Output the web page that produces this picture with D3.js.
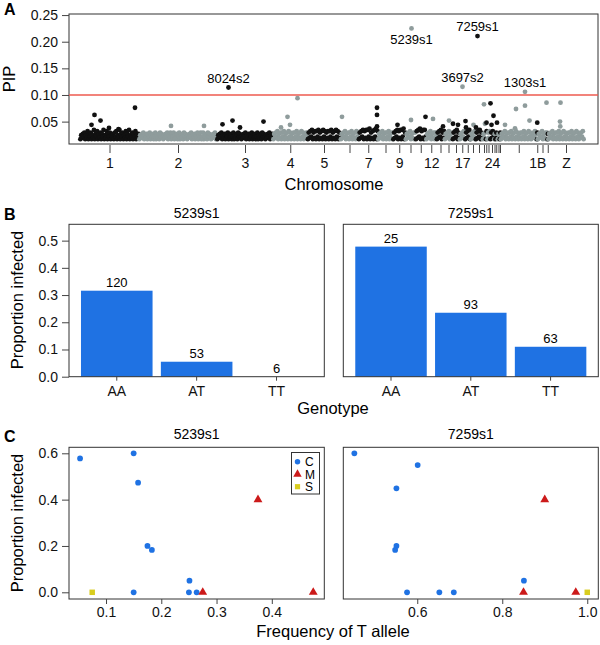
<!DOCTYPE html>
<html>
<head>
<meta charset="utf-8">
<script src="https://cdn.jsdelivr.net/npm/d3@7"></script>
<style>
  body { margin: 0; background: #fff; }
  svg { font-family: "Liberation Sans", Arial, sans-serif; }
</style>
</head>
<body>
<script>
// ---- data ----
// chromosomes in plotting order and their lengths (Mb)
var chromNames = ["1","2","3","4","5","6","7","8","9","10","11","12","13","14","15","17","18","19","20","21","22","23","24","25","26","27","28","1A","1B","4A","LGE22","Z"];
var chromLengths = [118,156,112,69,66,36,39,30,25,20,21,21,16,16,14,11,11,10,14,6,3,6,8,2,5,4,2,73,1,20,1,72];
var chromLabelled = ["1","2","3","4","5","7","9","12","17","24","1B","Z"];

// bulk of SNPs per chromosome, each digit = one SNP, PIP = 0.017 + 0.0025 * digit
var bulkPip = {
  "1":  "03142503160425031704260315042703160425031405260317042503160427031504260314",
  "2":  "03142503140425031402503140524103142503150425031402503140524103142503140425031502503140524103142503",
  "3":  "0314250314042503140250314052410314250314042503140250314052410314250314",
  "4":  "0415260415052604150625041505260415062504152",
  "5":  "05162705160627051607260516062705160726051",
  "6":  "0415260415052604150625",
  "7":  "051627061707280516072806",
  "8":  "0415260415052604150",
  "9":  "0516270617072805",
  "10": "041526041505",
  "11": "0617280617072",
  "12": "0415260415052",
  "13": "0516270516",
  "14": "0415260415",
  "15": "051627051",
  "17": "0415260",
  "18": "0516270",
  "19": "0415260",
  "20": "051627051",
  "21": "0415",
  "22": "06",
  "23": "0516",
  "24": "05162",
  "25": "04",
  "26": "051",
  "27": "041",
  "28": "05",
  "1A": "0415260415052604150625041505260415062504152604",
  "1B": "05",
  "4A": "041526041505",
  "LGE22": "04",
  "Z":  "041526041505260415062504150526041506250415260"
};

// SNPs standing out of the bulk: chromosome, position in chromosome (Mb), PIP
var topChrom = ["1","1","1","1","1","1","2","2","3","3","3","3","3","4","4","4","4","6","7","7","7","9","10","10","11","12","13","14","15","15","17","18","18","19","20","20","21","21","22","24","24","24","26","1A","1A","1A","1A","1A","1A","1B","4A","Z","Z","Z"];
var topPos   = [23,29,41,58,77,110,64,130,11,23,31,46,93,16,29,34,49,3,37,37,37,9,11,12,20,14,13,9,1,11,6,1,2,6,1,4,3,5,2,1,3,7,4,9,29,31,49,49,58,0.5,18,24,24.5,25];
var topPip   = [0.044,0.0625,0.052,0.038,0.036,0.076,0.042,0.042,0.045,0.114,0.052,0.039,0.050,0.039,0.059,0.044,0.094,0.059,0.076,0.0625,0.041,0.044,0.053,0.225,0.059,0.055,0.041,0.052,0.046,0.044,0.1155,0.051,0.039,0.044,0.039,0.2106,0.0825,0.046,0.048,0.0844,0.044,0.061,0.048,0.044,0.0375,0.0737,0.080,0.106,0.052,0.048,0.0856,0.050,0.041,0.0856];
var snpNames = ["8024s2","5239s1","7259s1","3697s2","1303s1"];
var snpIndex = [9,23,35,30,47];
var snpBelow = ["5239s1"];

// panel B
var genotypes = ["AA","AT","TT"];
var barSnps = ["5239s1","7259s1"];
var propInfected = [[0.316,0.055,0.0],[0.478,0.235,0.110]];
var sampleN = [[120,53,6],[25,93,63]];

// panel C
var popTypes = ["C","M","S"];
var freqT5239 = [0.053,0.150,0.158,0.175,0.183,0.150,0.251,0.250,0.264,0.275,0.375,0.475,0.075];
var prop5239  = [0.578,0.600,0.473,0.200,0.183,0.0,0.050,0.0,0.0,0.0,0.400,0.0,0.0];
var type5239  = ["C","C","C","C","C","C","C","C","C","M","M","M","S"];
var freqT7259 = [0.452,0.601,0.551,0.551,0.548,0.576,0.652,0.686,0.851,0.850,0.900,0.973,1.0];
var prop7259  = [0.600,0.549,0.449,0.200,0.183,0.0,0.0,0.0,0.050,0.0,0.400,0.0,0.0];
var type7259  = ["C","C","C","C","C","C","C","C","C","M","M","M","S"];

// ---- styles ----
var frameColor = "#333";
var blue = "#1f72e3";
var red = "#cc1a1a";
var yellow = "#d9cd1f";
var dark = "#111";
var grey = "#8f9c9c";
var fontTick = 14, fontTitle = 16.5;

var svg = d3.select("body").append("svg")
  .attr("width", 600).attr("height", 645);

function frame(x0, y0, x1, y1){
  svg.append("rect").attr("x", x0).attr("y", y0)
    .attr("width", x1 - x0).attr("height", y1 - y0)
    .attr("fill", "none").attr("stroke", frameColor).attr("stroke-width", 1);
}
function styleAxis(g){
  g.select(".domain").remove();
  g.selectAll(".tick line").attr("stroke", "#444");
  g.selectAll(".tick text").attr("font-size", fontTick).attr("fill", "#111")
    .attr("font-family", "Liberation Sans, Arial, sans-serif");
}
function panelLetter(t, x, y){
  svg.append("text").attr("x", x).attr("y", y).text(t)
    .attr("font-size", 16).attr("font-weight", "bold");
}
function yTitle(t, x, y){
  svg.append("text").attr("transform", "translate(" + x + "," + y + ") rotate(-90)")
    .attr("text-anchor", "middle").attr("font-size", fontTitle).text(t);
}

// ===== Panel A =====
var starts = [];
var acc = 0;
chromLengths.forEach(function(l){ starts.push(acc); acc += l; });
var chromStart = {}, chromLen = {}, chromIdx = {};
chromNames.forEach(function(c, i){ chromStart[c] = starts[i]; chromLen[c] = chromLengths[i]; chromIdx[c] = i; });

var xA = d3.scaleLinear().domain([-22, 1036]).range([69, 598]);
var yA = d3.scaleLinear().domain([0.008, 0.252]).range([144, 14]);

var pts = [];
chromNames.forEach(function(c){
  var s = bulkPip[c];
  for (var i = 0; i < s.length; i++){
    pts.push({chrom: c, pos: (i + 0.5) / s.length * chromLen[c], pip: 0.017 + 0.0025 * (+s[i])});
  }
});
topChrom.forEach(function(c, i){
  pts.push({chrom: c, pos: topPos[i], pip: topPip[i]});
});

frame(69, 14, 598, 144);

svg.append("line").attr("x1", 69).attr("x2", 598)
  .attr("y1", yA(0.1)).attr("y2", yA(0.1))
  .attr("stroke", "#ee5a4f").attr("stroke-width", 1.3);

svg.append("g").selectAll("circle").data(pts).enter().append("circle")
  .attr("cx", function(d){ return xA(chromStart[d.chrom] + d.pos); })
  .attr("cy", function(d){ return yA(d.pip); })
  .attr("r", 2.4)
  .attr("fill", function(d){ return chromIdx[d.chrom] % 2 == 0 ? dark : grey; });

snpNames.forEach(function(n, k){
  var i = snpIndex[k];
  var px = xA(chromStart[topChrom[i]] + topPos[i]);
  var py = yA(topPip[i]);
  svg.append("text").attr("x", px)
    .attr("y", snpBelow.indexOf(n) >= 0 ? py + 16 : py - 5)
    .attr("text-anchor", "middle").attr("font-size", 13).text(n);
});

var gyA = svg.append("g").attr("transform", "translate(69,0)")
  .call(d3.axisLeft(yA).tickValues([0.05,0.10,0.15,0.20,0.25]).tickFormat(d3.format(".2f")).tickSize(7).tickPadding(4));
styleAxis(gyA);

var gxA = svg.append("g").attr("transform", "translate(0,145)")
  .call(d3.axisBottom(xA)
    .tickValues(chromNames.map(function(c){ return chromStart[c] + chromLen[c] / 2; }))
    .tickFormat(function(d, i){ return chromLabelled.indexOf(chromNames[i]) >= 0 ? chromNames[i] : ""; })
    .tickSize(8).tickPadding(5));
styleAxis(gxA);

yTitle("PIP", 15, 79);
svg.append("text").attr("x", 334).attr("y", 190).attr("text-anchor", "middle")
  .attr("font-size", fontTitle).text("Chromosome");
panelLetter("A", 4, 15);

// ===== Panel B =====
var yB = d3.scaleLinear().domain([0, 0.56]).range([376.7, 224.3]);
var bPanels = [[69, 324.3], [343.3, 598.3]];

barSnps.forEach(function(snp, p){
  var x0 = bPanels[p][0], x1 = bPanels[p][1];
  var xB = d3.scaleBand().domain(genotypes).range([x0, x1]).paddingInner(0.104).paddingOuter(0.15);
  var rows = genotypes.map(function(g, i){ return {g: g, v: propInfected[p][i], n: sampleN[p][i]}; });

  svg.append("g").selectAll("rect").data(rows).enter().append("rect")
    .attr("x", function(d){ return xB(d.g); })
    .attr("width", xB.bandwidth())
    .attr("y", function(d){ return yB(d.v); })
    .attr("height", function(d){ return yB(0) - yB(d.v); })
    .attr("fill", blue);

  svg.append("g").selectAll("text").data(rows).enter().append("text")
    .attr("x", function(d){ return xB(d.g) + xB.bandwidth() / 2; })
    .attr("y", function(d){ return yB(d.v) - 3.5; })
    .attr("text-anchor", "middle").attr("font-size", 13)
    .text(function(d){ return d.n; });

  frame(x0, 224.3, x1, 376.7);

  var gx = svg.append("g").attr("transform", "translate(0,376.7)")
    .call(d3.axisBottom(xB).tickSize(4).tickPadding(5));
  styleAxis(gx);

  svg.append("text").attr("x", (x0 + x1) / 2).attr("y", 218)
    .attr("text-anchor", "middle").attr("font-size", 14).text(snp);
});

var gyB = svg.append("g").attr("transform", "translate(69,0)")
  .call(d3.axisLeft(yB).tickValues([0,0.1,0.2,0.3,0.4,0.5]).tickFormat(d3.format(".1f")).tickSize(7).tickPadding(4));
styleAxis(gyB);

yTitle("Proportion infected", 23, 300);
svg.append("text").attr("x", 333).attr("y", 414).attr("text-anchor", "middle")
  .attr("font-size", fontTitle).text("Genotype");
panelLetter("B", 4, 220);

// ===== Panel C =====
var yC = d3.scaleLinear().domain([0, 0.6]).range([592.3, 453.3]);
var cPanels = [
  {snp: "5239s1", x0: 69, x1: 324.3, dom: [0.033, 0.495], ticks: [0.1,0.2,0.3,0.4], fx: freqT5239, py: prop5239, ty: type5239},
  {snp: "7259s1", x0: 343.3, x1: 598.3, dom: [0.426, 1.026], ticks: [0.6,0.8,1.0], fx: freqT7259, py: prop7259, ty: type7259}
];
var symType = {C: d3.symbolCircle, M: d3.symbolTriangle, S: d3.symbolSquare};
var symSize = {C: 26, M: 34, S: 30};
var symColor = {C: blue, M: red, S: yellow};

cPanels.forEach(function(pn){
  var xC = d3.scaleLinear().domain(pn.dom).range([pn.x0, pn.x1]);
  var rows = pn.fx.map(function(f, i){ return {f: f, p: pn.py[i], t: pn.ty[i]}; });

  frame(pn.x0, 447.3, pn.x1, 599);

  svg.append("g").selectAll("path").data(rows).enter().append("path")
    .attr("transform", function(d){ return "translate(" + xC(d.f) + "," + yC(d.p) + ")"; })
    .attr("d", function(d){ return d3.symbol().type(symType[d.t]).size(symSize[d.t])(); })
    .attr("fill", function(d){ return symColor[d.t]; });

  var gx = svg.append("g").attr("transform", "translate(0,599)")
    .call(d3.axisBottom(xC).tickValues(pn.ticks).tickFormat(d3.format(".1f")).tickSize(5).tickPadding(3));
  styleAxis(gx);

  svg.append("text").attr("x", (pn.x0 + pn.x1) / 2).attr("y", 439)
    .attr("text-anchor", "middle").attr("font-size", 14).text(pn.snp);
});

var gyC = svg.append("g").attr("transform", "translate(69,0)")
  .call(d3.axisLeft(yC).tickValues([0,0.2,0.4,0.6]).tickFormat(d3.format(".1f")).tickSize(7).tickPadding(4));
styleAxis(gyC);

// legend
var leg = svg.append("g").attr("transform", "translate(291.5,452.5)");
leg.append("rect").attr("width", 28).attr("height", 41.5)
  .attr("fill", "#fff").attr("stroke", frameColor).attr("stroke-width", 1);
popTypes.forEach(function(t, i){
  leg.append("path").attr("transform", "translate(6," + (9.2 + i * 12.5) + ")")
    .attr("d", d3.symbol().type(symType[t]).size(symSize[t] * 0.9)())
    .attr("fill", symColor[t]);
  leg.append("text").attr("x", 13.5).attr("y", 13.5 + i * 12.5)
    .attr("font-size", 12).text(t);
});

yTitle("Proportion infected", 23, 523);
svg.append("text").attr("x", 333).attr("y", 637).attr("text-anchor", "middle")
  .attr("font-size", fontTitle).text("Frequency of T allele");
panelLetter("C", 4, 442);
</script>
</body>
</html>
